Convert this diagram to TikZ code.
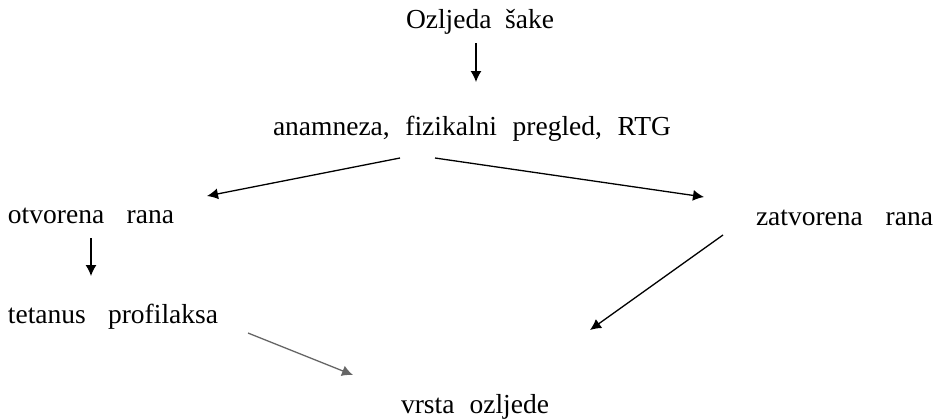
\documentclass[tikz,border=0pt]{standalone}
\usepackage{fontspec}
\setmainfont{Liberation Serif}
\usetikzlibrary{arrows.meta,calc}

% a label whose words are spread to a given total width
\newcommand{\spread}[2]{\makebox[#1pt][s]{#2}}

\tikzset{
  x=1pt, y=1pt,
  label/.style={anchor=base west, inner sep=0pt, outer sep=0pt,
                font=\fontsize{27.5}{33}\selectfont},
  arr/.style={line width=1.3pt, -{Latex[length=11pt,width=11pt]}},
  faint/.style={arr, draw=black!60}
}

\begin{document}
\begin{tikzpicture}
\useasboundingbox (0,0) rectangle (940,-418);

\node[label] (title) at (406,-28)  {\spread{148}{Ozljeda\hfil šake}};
\node[label] (anam)  at (273,-135) {\spread{398}{anamneza,\hfil fizikalni\hfil pregled,\hfil RTG}};
\node[label] (otv)   at (8,-223)   {\spread{166}{otvorena\hfil rana}};
\node[label] (zat)   at (756,-225) {\spread{177}{zatvorena\hfil rana}};
\node[label] (tet)   at (8,-323)   {\spread{210}{tetanus\hfil profilaksa}};
\node[label] (vrsta) at (401,-413) {\spread{148}{vrsta\hfil ozljede}};

\draw[arr] ($(title.base)+(-4,-15)$) -- ($(anam.base)+(4,53)$);
\draw[arr] ($(anam.base)+(-72,-23)$) -- ($(otv.base)+(116,27)$);
\draw[arr] ($(anam.base)+(-37,-23)$) -- ($(zat.base)+(-140.5,28)$);
\draw[arr] ($(otv.base)+(0,-15)$) -- ($(tet.base)+(-22,47)$);
\draw[faint] ($(tet.base)+(135,-10)$) -- ($(vrsta.base)+(-122,38)$);
\draw[arr] ($(zat.base)+(-121.5,-10)$) -- ($(vrsta.base)+(115,83)$);
\end{tikzpicture}
\end{document}
